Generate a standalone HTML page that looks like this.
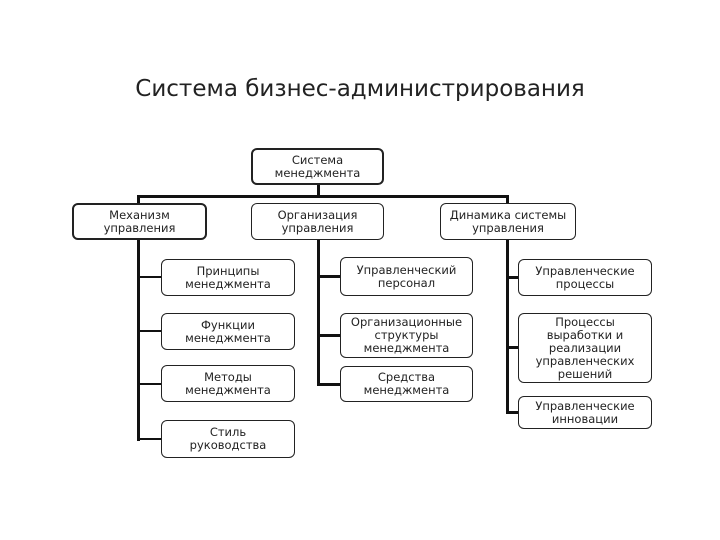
<!DOCTYPE html>
<html><head><meta charset="utf-8"><style>
body{margin:0;width:720px;height:540px;background:#fff;position:relative;overflow:hidden;font-family:"DejaVu Sans","Liberation Sans",sans-serif}
.t{position:absolute;left:0;width:720px;top:76px;text-align:center;font-size:23px;color:#222}
.b{position:absolute;box-sizing:border-box;border:1.5px solid #222;border-radius:6px;display:flex;align-items:center;justify-content:center;text-align:center;font-size:11.5px;line-height:13px;color:#222;background:#fff}
.k{border-width:2.5px}
.l{position:absolute;background:#111}
</style></head><body>
<div class="t">Система бизнес-администрирования</div>
<div class="l" style="left:317px;top:184px;width:3px;height:13px"></div>
<div class="l" style="left:137px;top:195px;width:372px;height:3px"></div>
<div class="l" style="left:137px;top:195px;width:3px;height:10px"></div>
<div class="l" style="left:506px;top:195px;width:3px;height:10px"></div>
<div class="l" style="left:137px;top:239px;width:3px;height:202px"></div>
<div class="l" style="left:317px;top:239px;width:3px;height:146px"></div>
<div class="l" style="left:506px;top:239px;width:3px;height:174px"></div>
<div class="l" style="left:137px;top:276px;width:24px;height:2px"></div>
<div class="l" style="left:137px;top:330px;width:24px;height:2px"></div>
<div class="l" style="left:137px;top:383px;width:24px;height:2px"></div>
<div class="l" style="left:137px;top:438px;width:24px;height:2px"></div>
<div class="l" style="left:317px;top:275px;width:23px;height:3px"></div>
<div class="l" style="left:317px;top:334px;width:23px;height:3px"></div>
<div class="l" style="left:317px;top:383px;width:23px;height:3px"></div>
<div class="l" style="left:506px;top:276px;width:12px;height:3px"></div>
<div class="l" style="left:506px;top:346px;width:12px;height:3px"></div>
<div class="l" style="left:506px;top:411px;width:12px;height:3px"></div>

<div class="b k" style="left:251px;top:148px;width:133px;height:37px">Система<br>менеджмента</div>
<div class="b k" style="left:72px;top:203px;width:135px;height:37px">Механизм<br>управления</div>
<div class="b" style="left:251px;top:203px;width:133px;height:37px">Организация<br>управления</div>
<div class="b" style="left:440px;top:203px;width:136px;height:37px">Динамика системы<br>управления</div>

<div class="b" style="left:161px;top:259px;width:134px;height:37px">Принципы<br>менеджмента</div>
<div class="b" style="left:161px;top:313px;width:134px;height:37px">Функции<br>менеджмента</div>
<div class="b" style="left:161px;top:365px;width:134px;height:37px">Методы<br>менеджмента</div>
<div class="b" style="left:161px;top:420px;width:134px;height:38px">Стиль<br>руководства</div>

<div class="b" style="left:340px;top:257px;width:133px;height:39px">Управленческий<br>персонал</div>
<div class="b" style="left:340px;top:313px;width:133px;height:45px">Организационные<br>структуры<br>менеджмента</div>
<div class="b" style="left:340px;top:366px;width:133px;height:36px">Средства<br>менеджмента</div>

<div class="b" style="left:518px;top:259px;width:134px;height:37px">Управленческие<br>процессы</div>
<div class="b" style="left:518px;top:313px;width:134px;height:70px">Процессы<br>выработки и<br>реализации<br>управленческих<br>решений</div>
<div class="b" style="left:518px;top:396px;width:134px;height:33px">Управленческие<br>инновации</div>
</body></html>
